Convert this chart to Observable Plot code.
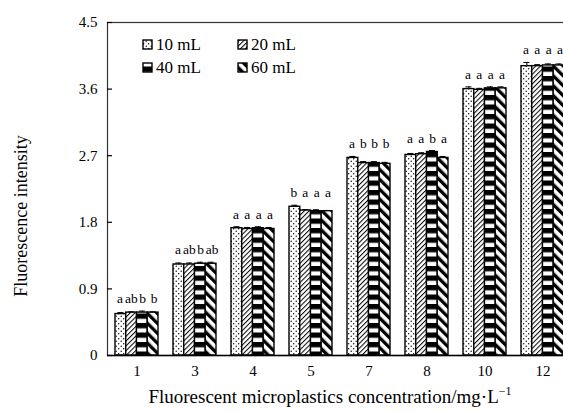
<!DOCTYPE html>
<html><head><meta charset="utf-8">
<script src="https://cdn.jsdelivr.net/npm/d3@7"></script>
<script src="https://cdn.jsdelivr.net/npm/@observablehq/plot@0.6"></script>
<style>html,body{margin:0;padding:0;overflow:hidden;background:#fff} svg{max-width:none !important}</style>
</head><body><div id="chart"></div>
<script>
const concentrations = ["1","3","4","5","7","8","10","12"];
const seriesNames = ["10 mL","20 mL","40 mL","60 mL"];
const values10 = [0.56, 1.23, 1.72, 2.01, 2.67, 2.71, 3.60, 3.91];
const values20 = [0.58, 1.23, 1.71, 1.96, 2.60, 2.72, 3.59, 3.91];
const values40 = [0.58, 1.24, 1.72, 1.95, 2.60, 2.75, 3.61, 3.92];
const values60 = [0.58, 1.24, 1.71, 1.95, 2.59, 2.67, 3.61, 3.92];
const errors10 = [0.02, 0.02, 0.02, 0.02, 0.02, 0.02, 0.03, 0.05];
const errors20 = [0.01, 0.02, 0.02, 0.01, 0.02, 0.02, 0.02, 0.02];
const errors40 = [0.02, 0.02, 0.02, 0.02, 0.02, 0.02, 0.02, 0.02];
const errors60 = [0.01, 0.02, 0.02, 0.01, 0.02, 0.02, 0.02, 0.02];
const letters10 = ["a","a","a","b","a","a","a","a"];
const letters20 = ["ab","ab","a","a","b","a","a","a"];
const letters40 = ["b","b","a","a","b","b","a","a"];
const letters60 = ["b","ab","a","a","b","a","a","a"];
const yTicks = [0, 0.9, 1.8, 2.7, 3.6, 4.5];

const allValues = [values10, values20, values40, values60];
const allErrors = [errors10, errors20, errors40, errors60];
const allLetters = [letters10, letters20, letters40, letters60];
const patternIds = ["p10","p20","p40","p60"];

const rows = [];
seriesNames.forEach((s, i) => concentrations.forEach((c, j) => {
  rows.push({series: s, si: i, conc: c, value: allValues[i][j], err: allErrors[i][j], letter: allLetters[i][j]});
}));
const groupTop = {};
concentrations.forEach((c, j) => {
  groupTop[c] = d3.max(seriesNames.map((s, i) => allValues[i][j] + allErrors[i][j]));
});

const W = 580, H = 411, mL = 107, mR = 9, mT = 22, mB = 56;
const pIn = 0.26, pOut = 0.13;
const step = (W - mL - mR) / (concentrations.length - pIn + 2 * pOut);
const bw = step * (1 - pIn);
const sub = bw / 4;
const capW = 6;
const FONT = "Liberation Serif, Times New Roman, serif";

const marks = [];
seriesNames.forEach((s, i) => {
  const d = rows.filter(r => r.si === i);
  marks.push(Plot.barY(d, {x: "conc", y: "value", fill: `url(#${patternIds[i]})`, stroke: "black", strokeWidth: 1.4,
    insetLeft: i * sub, insetRight: (3 - i) * sub}));
});
seriesNames.forEach((s, i) => {
  const d = rows.filter(r => r.si === i);
  marks.push(Plot.ruleX(d, {x: "conc", y1: "value", y2: d => d.value + d.err, dx: (i - 1.5) * sub, stroke: "black", strokeWidth: 1}));
  marks.push(Plot.tickY(d, {x: "conc", y: d => d.value + d.err, stroke: "black", strokeWidth: 1,
    insetLeft: i * sub + (sub - capW) / 2, insetRight: (3 - i) * sub + (sub - capW) / 2}));
  marks.push(Plot.text(d, {x: "conc", y: d => groupTop[d.conc], text: "letter", dx: (i - 1.5) * sub * 1.06, dy: -8,
    lineAnchor: "bottom", fontSize: 13.5, fontFamily: FONT, fill: "black"}));
});

const plot = Plot.plot({
  width: W, height: H,
  marginLeft: mL, marginRight: mR, marginTop: mT, marginBottom: mB,
  style: {fontFamily: FONT, fontSize: "15px", color: "black", background: "white", maxWidth: "none"},
  x: {domain: concentrations, paddingInner: pIn, paddingOuter: pOut, label: null},
  y: {domain: [0, 4.5], label: null},
  marks: [
    ...marks,
    Plot.frame({stroke: "#333", strokeWidth: 1.2}),
    Plot.ruleY([0], {stroke: "black", strokeWidth: 1.6}),
    Plot.axisY({ticks: yTicks, tickSize: -5, tickPadding: 15, tickFormat: d => d === 0 ? "0" : d.toFixed(1), label: null, strokeWidth: 1.2, fontFamily: FONT}),
    Plot.axisX({tickSize: 0, tickPadding: 10, label: null, fontFamily: FONT})
  ]
});
plot.setAttribute("font-family", FONT);
document.getElementById("chart").appendChild(plot);

const svg = d3.select(plot);
const defs = svg.insert("defs", ":first-child");
// 10 mL: dots
let p = defs.append("pattern").attr("id", "p10").attr("patternUnits", "userSpaceOnUse").attr("width", 5).attr("height", 5);
p.append("rect").attr("width", 5).attr("height", 5).attr("fill", "white");
p.append("circle").attr("cx", 1.2).attr("cy", 1.2).attr("r", 0.7).attr("fill", "black");
p.append("circle").attr("cx", 3.7).attr("cy", 3.7).attr("r", 0.7).attr("fill", "black");
// 20 mL: thin diagonal /
p = defs.append("pattern").attr("id", "p20").attr("patternUnits", "userSpaceOnUse").attr("width", 3.4).attr("height", 3.4).attr("patternTransform", "rotate(45)");
p.append("rect").attr("width", 3.4).attr("height", 3.4).attr("fill", "white");
p.append("rect").attr("width", 1).attr("height", 3.4).attr("fill", "black");
// 40 mL: thick horizontal stripes
p = defs.append("pattern").attr("id", "p40").attr("patternUnits", "userSpaceOnUse").attr("width", 10).attr("height", 9.5);
p.append("rect").attr("width", 10).attr("height", 9.5).attr("fill", "white");
p.append("rect").attr("width", 10).attr("height", 5.3).attr("fill", "black");
// 60 mL: thick diagonal backslash
p = defs.append("pattern").attr("id", "p60").attr("patternUnits", "userSpaceOnUse").attr("width", 7).attr("height", 7).attr("patternTransform", "rotate(-45)");
p.append("rect").attr("width", 7).attr("height", 7).attr("fill", "white");
p.append("rect").attr("width", 3.3).attr("height", 7).attr("fill", "black");

// legend
const legendPos = [[143, 40], [238, 40], [143, 63], [238, 63]];
const lg = svg.append("g").attr("font-family", FONT).attr("font-size", 17).attr("text-anchor", "start");
seriesNames.forEach((s, i) => {
  const [lx, ly] = legendPos[i];
  lg.append("rect").attr("x", lx).attr("y", ly).attr("width", 9).attr("height", 9)
    .attr("fill", `url(#${patternIds[i]})`).attr("stroke", "black").attr("stroke-width", 1.4);
  lg.append("text").attr("x", lx + 13).attr("y", ly + 9.5).text(s);
});

// axis titles
svg.append("text").attr("transform", "translate(27,216) rotate(-90)").attr("text-anchor", "middle")
  .attr("font-family", FONT).attr("font-size", 18).text("Fluorescence intensity");
const xt = svg.append("text").attr("x", 330).attr("y", 403).attr("text-anchor", "middle")
  .attr("font-family", FONT).attr("font-size", 19);
xt.append("tspan").text("Fluorescent microplastics concentration/mg·L");
xt.append("tspan").attr("dy", -8).attr("font-size", 12).text("−1");
</script>
</body></html>
